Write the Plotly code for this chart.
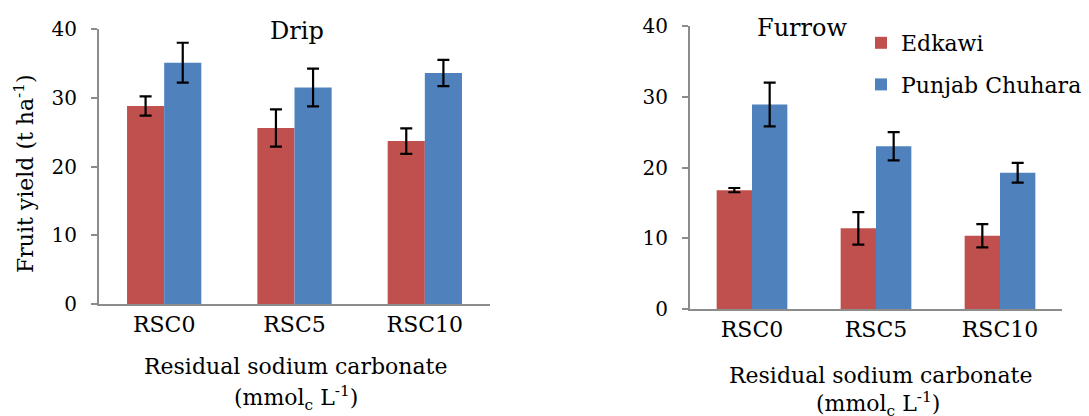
import plotly.graph_objects as go

categories = ["RSC0", "RSC5", "RSC10"]
series_names = ["Edkawi", "Punjab Chuhara"]

drip_edkawi = [28.8, 25.6, 23.7]
drip_edkawi_err = [1.4, 2.7, 1.85]
drip_punjab = [35.1, 31.5, 33.6]
drip_punjab_err = [2.9, 2.75, 1.9]

furrow_edkawi = [16.8, 11.4, 10.35]
furrow_edkawi_err = [0.3, 2.3, 1.65]
furrow_punjab = [28.9, 23.0, 19.25]
furrow_punjab_err = [3.1, 2.0, 1.4]

y_ticks = [0, 10, 20, 30, 40]
colors = ["#C0504D", "#4F81BD"]
FONT = "DejaVu Serif"

# page body has an 8px default margin; figure fills the rest of the window
OFF = 8
W, H = 1089 - OFF, 416 - OFF


def px(x):
    return (x - OFF) / W


def py(y):
    return 1 - (y - OFF) / H


fig = go.Figure()


def add_bars(vals, errs, name, color, xa, ya, show):
    fig.add_trace(go.Bar(
        x=categories, y=vals, name=name, marker=dict(color=color, line=dict(width=0)),
        error_y=dict(type="data", array=errs, visible=True, color="black", thickness=2.2, width=6),
        xaxis=xa, yaxis=ya, showlegend=show, legendgroup=name,
    ))


add_bars(drip_edkawi, drip_edkawi_err, series_names[0], colors[0], "x", "y", False)
add_bars(drip_punjab, drip_punjab_err, series_names[1], colors[1], "x", "y", False)
add_bars(furrow_edkawi, furrow_edkawi_err, series_names[0], colors[0], "x2", "y2", True)
add_bars(furrow_punjab, furrow_punjab_err, series_names[1], colors[1], "x2", "y2", True)

axis_color = "#8C8C8C"
common_x = dict(showgrid=False, showline=True, linecolor=axis_color, linewidth=2,
                ticks="", tickfont=dict(family=FONT, size=22, color="black"),
                zeroline=False, automargin=False)
common_y = dict(showgrid=False, showline=True, linecolor=axis_color, linewidth=2,
                ticks="outside", ticklen=6, tickcolor=axis_color, tickwidth=2,
                tickvals=y_ticks, range=[0, 40], zeroline=False, automargin=False,
                tickfont=dict(family=FONT, size=20, color="black"), ticklabelstandoff=10)

fig.update_layout(
    width=W, height=H, margin=dict(l=0, r=0, t=0, b=0, autoexpand=False),
    plot_bgcolor="white", paper_bgcolor="white",
    barmode="group", bargap=0.43, bargroupgap=0,
    xaxis=dict(domain=[px(99), px(490)], anchor="y", **common_x),
    yaxis=dict(domain=[py(304), py(29)], anchor="x", **common_y),
    xaxis2=dict(domain=[px(690), px(1062)], anchor="y2", **common_x),
    yaxis2=dict(domain=[py(309), py(26)], anchor="x2", **common_y),
    legend=dict(x=px(861), y=py(22), xanchor="left", yanchor="top",
                font=dict(family=FONT, size=22, color="black"),
                traceorder="grouped", tracegroupgap=10, bgcolor="rgba(0,0,0,0)"),
    font=dict(family=FONT, size=20, color="black"),
)

ann = [
    dict(text="Drip", x=297, y=31, size=24),
    dict(text="Furrow", x=802, y=28, size=24),
    dict(text="Residual sodium carbonate", x=295, y=366, size=22),
    dict(text="(mmol<sub>c</sub> L<sup>-1</sup>)", x=296, y=398, size=22),
    dict(text="Residual sodium carbonate", x=880, y=375, size=22),
    dict(text="(mmol<sub>c</sub> L<sup>-1</sup>)", x=878, y=404, size=22),
]
for a in ann:
    fig.add_annotation(text=a["text"], x=px(a["x"]), y=py(a["y"]), xref="paper", yref="paper",
                       xanchor="center", yanchor="middle", showarrow=False,
                       font=dict(family=FONT, size=a["size"], color="black"))

fig.add_annotation(text="Fruit yield (t ha<sup>-1</sup>)", x=px(24), y=py(174),
                   xref="paper", yref="paper", xanchor="center", yanchor="middle",
                   textangle=-90, showarrow=False,
                   font=dict(family=FONT, size=22, color="black"))

fig.write_html("out.html")
